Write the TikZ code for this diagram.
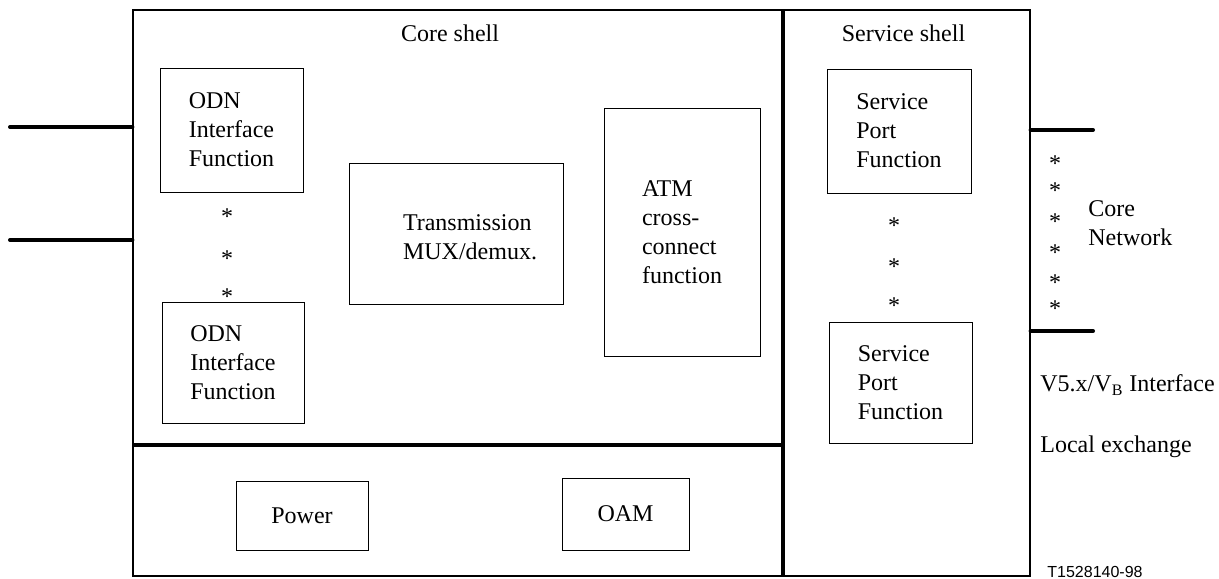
\documentclass[tikz,border=0pt]{standalone}
\usepackage{fontspec}
\setmainfont{Liberation Serif}
\newfontfamily\labelfont{Liberation Sans}
\usetikzlibrary{calc}
\def\busline{2pt}
\def\boxline{0.5pt}

\begin{document}
\begin{tikzpicture}[x=0.5pt,y=-0.5pt, font=\fontsize{12}{14.5}\selectfont]
    \tikzstyle{block}=[draw, line width=\boxline, inner sep=0pt, align=left]
    \tikzstyle{shell}=[draw, line width=0.6pt, inner sep=0pt]
    \tikzstyle{bus}=[line width=\busline, line cap=round]
    \tikzstyle{divider}=[line width=\busline]
    \tikzstyle{star}=[inner sep=0pt, anchor=base]
    \tikzstyle{annot}=[inner sep=0pt, anchor=west, align=left]

    \useasboundingbox (0,0) rectangle (1219,578);

    % Draw the access node frame
    \path node[shell, minimum width=448.5pt, minimum height=283pt] (AN) at (581.5,293) {};

    % Draw the shell dividers
    \coordinate (D-v) at (783,10);
    \coordinate (D-h) at (133,445);
    \draw[divider] (D-v) -- (D-v |- AN.south);
    \draw[divider] (D-h) -- (D-h -| D-v);

    \path node (core) at (450,33) {Core shell};
    \path node (serv) at (903.5,33) {Service shell};

    % Draw the ODN side
    \path node[block, minimum width=71.5pt, minimum height=62pt] (ODN-1) at (231.5,130) {ODN\\Interface\\Function};
    \foreach \name / \y in {1/213,2/255,3/293}
        \path node[star] (LS-\name) at (227,\y+11) {*};
    \path node[block, minimum width=71pt, minimum height=60.5pt] (ODN-2) at (233,362.5) {ODN\\Interface\\Function};

    \coordinate (in-1) at (10,127);
    \coordinate (in-2) at (10,240);
    \draw[bus] (in-1) -- (in-1 -| AN.west);
    \draw[bus] (in-2) -- (in-2 -| AN.west);

    % Draw the core functions
    \path node[block, minimum width=107pt, minimum height=70.5pt] (TMX) at (456,233.5) {};
    \path node[align=left] (TMX-t) at ([xshift=7pt, yshift=-2pt]TMX.center) {Transmission\\MUX/demux.};
    \path node[block, minimum width=78pt, minimum height=124pt] (ATM) at (682,232) {ATM\\cross-\\connect\\function};

    \path node[block, minimum width=66pt, minimum height=34.5pt] (PWR) at (302,515.5) {Power};
    \path node[block, minimum width=63.5pt, minimum height=36pt] (OAM) at (625.5,514) {OAM};

    % Draw the service side
    \path node[block, minimum width=72pt, minimum height=62pt] (SPF-1) at (899,131) {Service\\Port\\Function};
    \foreach \name / \y in {1/222,2/263,3/302}
        \path node[star] (MS-\name) at (894,\y+11) {*};
    \path node[block, minimum width=71.5pt, minimum height=60.5pt] (SPF-2) at (900.5,382.5) {Service\\Port\\Function};

    \coordinate (out-1) at (1093,130);
    \coordinate (out-2) at (1093,331);
    \draw[bus] (AN.east |- out-1) -- (out-1);
    \draw[bus] (AN.east |- out-2) -- (out-2);
    \foreach \name / \y in {1/160,2/187,3/218,4/249,5/279,6/305}
        \path node[star] (RS-\name) at (1055,\y+11) {*};

    \path node[annot] (CN) at (1088,223.5) {Core\\Network};
    \path node[annot] (V5) at (1040,385) {V5.x/V\textsubscript{B} Interface};
    \path node[annot] (LE) at (1040,447) {Local exchange};
    \path node[annot, font={\labelfont\fontsize{8}{9.6}\selectfont}] (fig) at (1047,572) {T1528140-98};
\end{tikzpicture}
\end{document}
